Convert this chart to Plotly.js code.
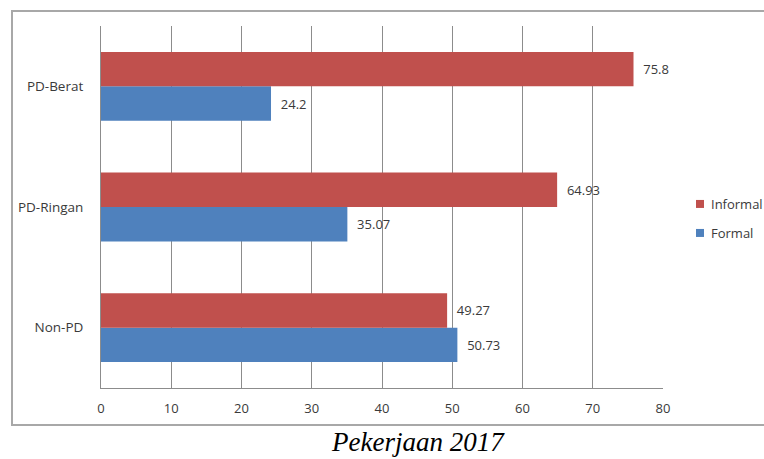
<!DOCTYPE html>
<html>
<head>
<meta charset="utf-8">
<script src="https://cdn.plot.ly/plotly-3.0.1.min.js"></script>
<style>html,body{margin:0;padding:0;background:#fff;}#chart{width:764px;height:459px;}</style>
</head>
<body>
<div id="chart"></div>
<script>
// Data
var categories = ['Non-PD', 'PD-Ringan', 'PD-Berat'];
var formalValues = [50.73, 35.07, 24.2];
var informalValues = [49.27, 64.93, 75.8];
var xTickValues = [0, 10, 20, 30, 40, 50, 60, 70, 80];
var seriesNames = ['Formal', 'Informal'];
var captionText = 'Pekerjaan 2017';

var blue = '#4F81BD';
var red = '#C0504D';
var textColor = '#3a3a3a';
var gridColor = '#8c8c8c';
var baseFont = 'Open Sans, Noto Sans, sans-serif';

function labels(vals) {
  return vals.map(function (v) { return '\u00a0\u00a0' + v; });
}

var traces = [
  {
    type: 'bar', orientation: 'h', name: seriesNames[0],
    y: categories, x: formalValues,
    marker: {color: blue},
    text: labels(formalValues), textposition: 'outside', cliponaxis: false,
    textfont: {family: baseFont, size: 13, color: textColor},
    showlegend: false, hoverinfo: 'x+y'
  },
  {
    type: 'bar', orientation: 'h', name: seriesNames[1],
    y: categories, x: informalValues,
    marker: {color: red},
    text: labels(informalValues), textposition: 'outside', cliponaxis: false,
    textfont: {family: baseFont, size: 13, color: textColor},
    showlegend: false, hoverinfo: 'x+y'
  },
  // legend symbols (small squares); their labels are drawn as annotations
  {
    type: 'scatter', mode: 'markers', name: ' ',
    x: [null], y: [null],
    marker: {symbol: 'square', size: 8, color: red},
    legend: 'legend', showlegend: true
  },
  {
    type: 'scatter', mode: 'markers', name: ' ',
    x: [null], y: [null],
    marker: {symbol: 'square', size: 8, color: blue},
    legend: 'legend2', showlegend: true
  }
];

var plotL = 101, plotR = 663, plotT = 26, plotB = 388;
var W = 764, H = 459;
var pw = plotR - plotL, ph = plotB - plotT;
function px2x(px) { return (px - plotL) / pw; }
function px2y(py) { return (plotB - py) / ph; }

var legendY = [204, 233];
var legendMarkerX = 700;
var legendTextX = 709;

var layout = {
  width: W, height: H,
  margin: {l: plotL, r: W - plotR, t: plotT, b: H - plotB, pad: 0},
  paper_bgcolor: '#ffffff', plot_bgcolor: '#ffffff',
  font: {family: baseFont, size: 13, color: textColor},
  barmode: 'group', bargap: 0.43, bargroupgap: 0,
  xaxis: {
    range: [0, 80], tickvals: xTickValues, ticktext: xTickValues.map(String),
    showgrid: true, gridcolor: gridColor, gridwidth: 1,
    zeroline: false, showline: true, linecolor: gridColor, linewidth: 1,
    ticks: '', ticklabelstandoff: 8,
    tickfont: {family: baseFont, size: 13, color: textColor},
    fixedrange: true
  },
  yaxis: {
    type: 'category', categoryorder: 'array', categoryarray: categories,
    range: [-0.5, 2.5],
    showgrid: false, zeroline: false, showline: true, linecolor: gridColor, linewidth: 1,
    ticks: '', ticklabelstandoff: 14,
    tickfont: {family: baseFont, size: 13.5, color: textColor},
    fixedrange: true
  },
  legend: {
    x: px2x(legendMarkerX - 20), xanchor: 'left', y: px2y(legendY[0]), yanchor: 'middle',
    bgcolor: 'rgba(0,0,0,0)', borderwidth: 0,
    font: {family: baseFont, size: 13, color: textColor}
  },
  legend2: {
    x: px2x(legendMarkerX - 20), xanchor: 'left', y: px2y(legendY[1]), yanchor: 'middle',
    bgcolor: 'rgba(0,0,0,0)', borderwidth: 0,
    font: {family: baseFont, size: 13, color: textColor}
  },
  shapes: [
    {
      type: 'rect', xref: 'paper', yref: 'paper', layer: 'below',
      x0: px2x(12), x1: px2x(767), y0: px2y(425), y1: px2y(11),
      line: {color: '#a8a8a8', width: 2}, fillcolor: 'rgba(0,0,0,0)'
    }
  ],
  annotations: [
    {
      text: seriesNames[1], xref: 'paper', yref: 'paper',
      x: px2x(legendTextX), y: px2y(legendY[0]), xanchor: 'left', yanchor: 'middle',
      showarrow: false, font: {family: baseFont, size: 13, color: textColor}
    },
    {
      text: seriesNames[0], xref: 'paper', yref: 'paper',
      x: px2x(legendTextX), y: px2y(legendY[1]), xanchor: 'left', yanchor: 'middle',
      showarrow: false, font: {family: baseFont, size: 13, color: textColor}
    },
    {
      text: captionText, xref: 'paper', yref: 'paper',
      x: px2x(418), y: px2y(442), xanchor: 'center', yanchor: 'middle',
      showarrow: false,
      font: {family: 'Liberation Serif, DejaVu Serif, serif', size: 27, color: '#000000', style: 'italic'}
    }
  ]
};

Plotly.newPlot('chart', traces, layout, {displayModeBar: false, staticPlot: true});
</script>
</body>
</html>
